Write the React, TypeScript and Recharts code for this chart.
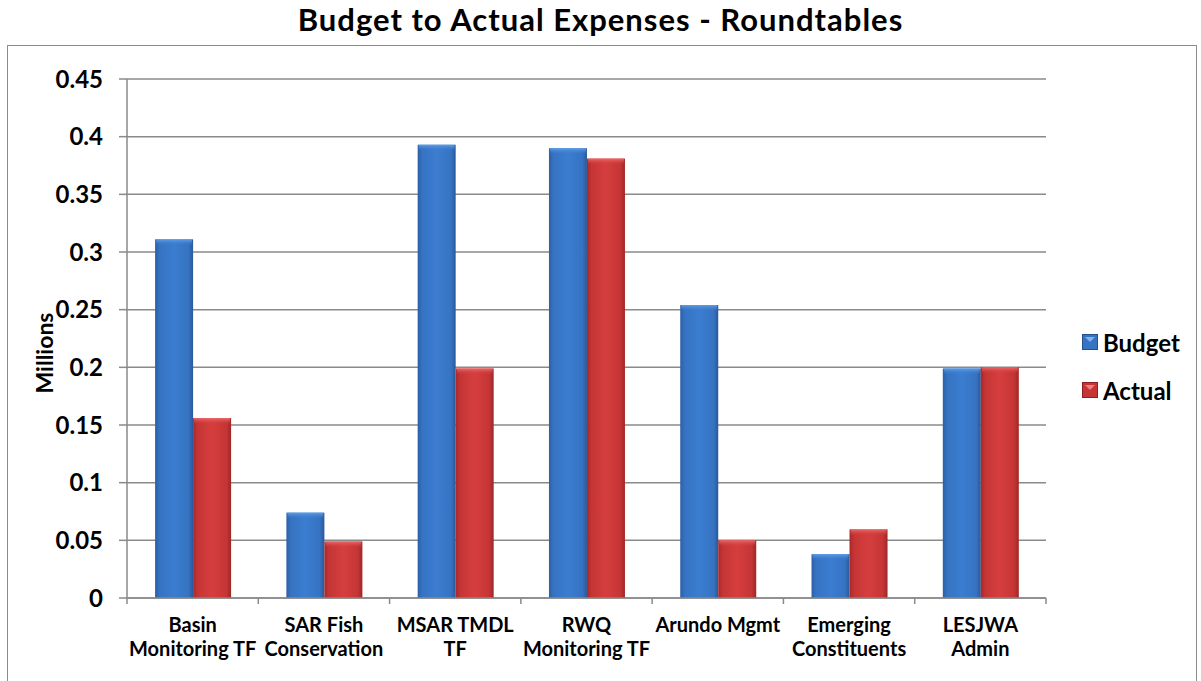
import { BarChart, Bar, XAxis, YAxis, CartesianGrid } from "recharts";

const categoryLines = [
  ["Basin", "Monitoring TF"],
  ["SAR Fish", "Conservation"],
  ["MSAR TMDL", "TF"],
  ["RWQ", "Monitoring TF"],
  ["Arundo Mgmt"],
  ["Emerging", "Constituents"],
  ["LESJWA", "Admin"],
];
const categories = categoryLines.map((l) => l.join(" "));
const budget = [0.311, 0.074, 0.393, 0.39, 0.254, 0.038, 0.199];
const actual = [0.156, 0.049, 0.199, 0.381, 0.05, 0.0595, 0.2];
const yTicks = [0, 0.05, 0.1, 0.15, 0.2, 0.25, 0.3, 0.35, 0.4, 0.45];
const seriesNames = ["Budget", "Actual"];

const data = categories.map((name, i) => ({
  name,
  Budget: budget[i],
  Actual: actual[i],
}));

const W = 1201;
const H = 681;
const PLOT_LEFT = 127;
const PLOT_RIGHT = 1046;
const PLOT_TOP = 79;
const PLOT_BOTTOM = 598;
const BAND = (PLOT_RIGHT - PLOT_LEFT) / categories.length;
const FONT = "Lato, 'Open Sans', sans-serif";
const GRID = "#8a8a8a";

const fills: Record<string, string> = { Budget: "url(#gBudget)", Actual: "url(#gActual)" };
const tops: Record<string, string> = { Budget: "url(#tBudget)", Actual: "url(#tActual)" };

// bar with a lighter bevel at the top
function BevelBar(props: any) {
  const { x, y, width, height, dataKey } = props;
  if (!height || height <= 0) return null;
  const cap = Math.min(6, height);
  return (
    <g>
      <rect x={x} y={y} width={width} height={height} fill={fills[dataKey]} />
      <rect x={x + 1} y={y} width={width - 2} height={cap} fill={tops[dataKey]} />
    </g>
  );
}

function CategoryTick(props: any) {
  const { x, y, index } = props;
  const lines = categoryLines[index] || [];
  const left = x - BAND / 2;
  const right = x + BAND / 2;
  return (
    <g>
      <line x1={left} y1={y} x2={left} y2={y + 6} stroke={GRID} strokeWidth={1.5} />
      {index === categories.length - 1 && (
        <line x1={right} y1={y} x2={right} y2={y + 6} stroke={GRID} strokeWidth={1.5} />
      )}
      {lines.map((t: string, i: number) => (
        <text
          key={i}
          x={x}
          y={y + 34 + i * 24}
          textAnchor="middle"
          fontFamily={FONT}
          fontWeight={700}
          fontSize={20}
          fill="#000"
        >
          {t}
        </text>
      ))}
    </g>
  );
}

const fmt = (v: number) => String(Number(v.toFixed(2)));

export default function App() {
  return (
    <div style={{ position: "absolute", left: 0, top: 0, width: W, height: H, background: "#fff", overflow: "hidden" }}>
      <div
        style={{
          position: "absolute",
          left: 0,
          top: 0,
          width: W,
          textAlign: "center",
          fontFamily: FONT,
          fontWeight: 700,
          fontSize: 31,
          lineHeight: "38px",
          letterSpacing: 1,
          color: "#000",
        }}
      >
        Budget to Actual Expenses - Roundtables
      </div>
      <div
        style={{
          position: "absolute",
          left: 7,
          top: 45,
          width: 1188,
          height: 640,
          border: "1.5px solid #8c8c8c",
        }}
      />
      <div style={{ position: "absolute", left: 0, top: 0 }}>
        <BarChart
          width={W}
          height={H}
          data={data}
          margin={{ top: PLOT_TOP, right: W - PLOT_RIGHT, bottom: 0, left: PLOT_LEFT - 60 }}
          barCategoryGap="21.4%"
          barGap={0}
        >
          <defs>
            <linearGradient id="gBudget" x1="0" y1="0" x2="1" y2="0">
              <stop offset="0" stopColor="#2c5fa6" />
              <stop offset="0.12" stopColor="#3673c2" />
              <stop offset="0.5" stopColor="#3b7dd0" />
              <stop offset="0.88" stopColor="#3673c2" />
              <stop offset="1" stopColor="#2a5898" />
            </linearGradient>
            <linearGradient id="gActual" x1="0" y1="0" x2="1" y2="0">
              <stop offset="0" stopColor="#a82828" />
              <stop offset="0.12" stopColor="#c53535" />
              <stop offset="0.5" stopColor="#d63e3e" />
              <stop offset="0.88" stopColor="#c53535" />
              <stop offset="1" stopColor="#9e2626" />
            </linearGradient>
            <linearGradient id="tBudget" x1="0" y1="0" x2="0" y2="1">
              <stop offset="0" stopColor="#5f9ee6" />
              <stop offset="1" stopColor="#3b7dd0" stopOpacity={0} />
            </linearGradient>
            <linearGradient id="tActual" x1="0" y1="0" x2="0" y2="1">
              <stop offset="0" stopColor="#ec6a6a" />
              <stop offset="1" stopColor="#d63e3e" stopOpacity={0} />
            </linearGradient>
          </defs>
          <CartesianGrid vertical={false} stroke={GRID} strokeWidth={1.5} />
          <XAxis
            dataKey="name"
            height={H - PLOT_BOTTOM}
            interval={0}
            tickLine={false}
            tickSize={0}
            tickMargin={0}
            axisLine={{ stroke: GRID, strokeWidth: 1.5 }}
            tick={<CategoryTick />}
          />
          <YAxis
            width={60}
            domain={[0, 0.45]}
            ticks={yTicks}
            tickFormatter={fmt}
            tickSize={8}
            tickMargin={16}
            axisLine={{ stroke: GRID, strokeWidth: 1.5 }}
            tickLine={{ stroke: GRID, strokeWidth: 1.5 }}
            tick={{ fill: "#000", fontFamily: FONT, fontWeight: 700, fontSize: 24 }}
          />
          {seriesNames.map((s) => (
            <Bar key={s} dataKey={s} shape={<BevelBar dataKey={s} />} isAnimationActive={false} />
          ))}
        </BarChart>
      </div>
      <div
        style={{
          position: "absolute",
          left: 44 - 60,
          top: 353 - 14,
          width: 120,
          height: 28,
          lineHeight: "28px",
          textAlign: "center",
          transform: "rotate(-90deg)",
          fontFamily: FONT,
          fontWeight: 700,
          fontSize: 23,
          color: "#000",
        }}
      >
        Millions
      </div>
      {seriesNames.map((s, i) => (
        <div
          key={s}
          style={{
            position: "absolute",
            left: 1082,
            top: 328 + i * 48,
            height: 28,
            display: "flex",
            alignItems: "center",
            fontFamily: FONT,
            fontWeight: 700,
            fontSize: 24,
            color: "#000",
          }}
        >
          <svg width={16} height={16} style={{ marginRight: 5 }}>
            <rect x={0} y={0} width={16} height={16} fill={s === "Budget" ? "#3673c2" : "#c53535"} />
            <rect x={0.5} y={0.5} width={15} height={15} fill="none" stroke={s === "Budget" ? "#24508c" : "#8c2020"} />
            <path d="M3 3 L8 8 L13 3 Z" fill={s === "Budget" ? "#7fb4f0" : "#f08080"} />
          </svg>
          {s}
        </div>
      ))}
    </div>
  );
}
